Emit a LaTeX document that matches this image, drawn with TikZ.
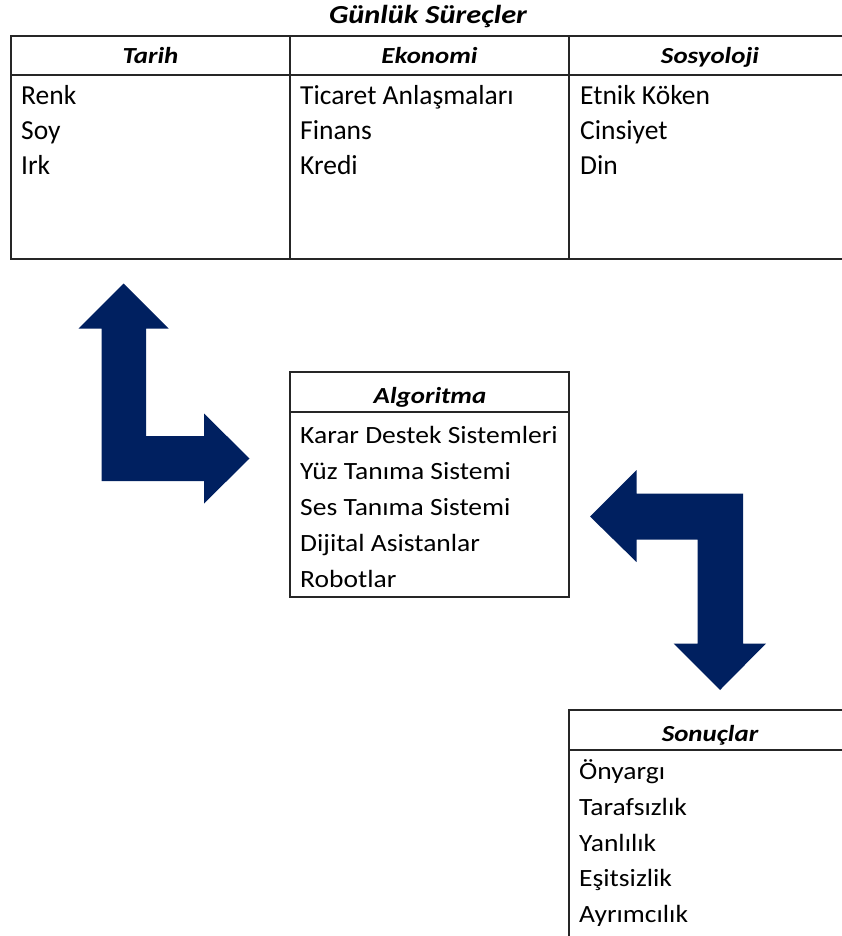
\documentclass[tikz,border=0pt]{standalone}
\usepackage{fontspec}
\setmainfont{Carlito}
\newfontfamily\tablefont{Carlito}
\newfontfamily\boxfont[FakeStretch=1.11]{Carlito}
\newfontfamily\headfont[FakeStretch=1.17]{Carlito}
\definecolor{navy}{HTML}{002060}
\definecolor{rule}{HTML}{262626}
\begin{document}
\begin{tikzpicture}[x=1pt,y=-1pt,
  frame/.style={draw=rule,line width=1.3pt},
  titletext/.style={anchor=base,inner sep=0pt,font=\headfont\bfseries\itshape\fontsize{26}{30}\selectfont},
  headtext/.style={anchor=base,inner sep=0pt,font=\headfont\bfseries\itshape\fontsize{23}{27}\selectfont},
  celltext/.style={anchor=base west,inner sep=0pt,font=\tablefont\fontsize{27.5}{33}\selectfont},
  itemtext/.style={anchor=base west,inner sep=0pt,font=\boxfont\fontsize{24.8}{30}\selectfont},
  blockarrow/.style={fill=navy,draw=none}]
  \useasboundingbox (0,0) rectangle (841,936);
  \fill[white] (0,0) rectangle (841,936);

  % daily processes table
  \node[titletext] (title) at (428,24) {Günlük Süreçler};
  \draw[frame] (11,36) rectangle (852,259);
  \draw[frame] (11,75) -- (852,75);
  \draw[frame] (290,36) -- (290,259);
  \draw[frame] (569,36) -- (569,259);
  \node[headtext] (hTarih) at (150.5,64) {Tarih};
  \node[headtext] (hEkonomi) at (429.5,64) {Ekonomi};
  \node[headtext] (hSosyoloji) at (710,64) {Sosyoloji};
  \node[celltext] (renk) at (21,105) {Renk};
  \node[celltext] (soy) at (21,140) {Soy};
  \node[celltext] (irk) at (21,175) {Irk};
  \node[celltext] (ticaret) at (300,105) {Ticaret Anlaşmaları};
  \node[celltext] (finans) at (300,140) {Finans};
  \node[celltext] (kredi) at (300,175) {Kredi};
  \node[celltext] (etnik) at (580,105) {Etnik Köken};
  \node[celltext] (cinsiyet) at (580,140) {Cinsiyet};
  \node[celltext] (din) at (580,175) {Din};

  % algorithm box
  \draw[frame] (290,372) rectangle (569,597);
  \draw[frame] (290,412) -- (569,412);
  \node[headtext] (hAlgoritma) at (430,403) {Algoritma};
  \node[itemtext] (karar) at (300,443) {Karar Destek Sistemleri};
  \node[itemtext] (yuz) at (300,479) {Yüz Tanıma Sistemi};
  \node[itemtext] (ses) at (300,515) {Ses Tanıma Sistemi};
  \node[itemtext] (dijital) at (300,551) {Dijital Asistanlar};
  \node[itemtext] (robot) at (300,587) {Robotlar};

  % results box
  \draw[frame] (569,940) -- (569,710) -- (852,710);
  \draw[frame] (569,750) -- (852,750);
  \node[headtext] (hSonuclar) at (710,741) {Sonuçlar};
  \node[itemtext] (onyargi) at (579,779) {Önyargı};
  \node[itemtext] (taraf) at (579,815) {Tarafsızlık};
  \node[itemtext] (yanlilik) at (579,851) {Yanlılık};
  \node[itemtext] (esitsiz) at (579,886) {Eşitsizlik};
  \node[itemtext] (ayrim) at (579,922) {Ayrımcılık};

  % bent arrow: up to the table, right to the algorithm box
  \fill[blockarrow] (123.5,283.5) -- (168.5,328.5) -- (146,328.5) -- (146,436)
    -- (204,436) -- (204,413.5) -- (249.5,458.5) -- (204,503.5) -- (204,481)
    -- (101.5,481) -- (101.5,328.5) -- (78.5,328.5) -- cycle;

  % bent arrow: left to the algorithm box, down to the results
  \fill[blockarrow] (590,516.5) -- (636.5,470) -- (636.5,493.5) -- (743,493.5)
    -- (743,643.5) -- (766,643.5) -- (720,690) -- (673.5,643.5) -- (697.5,643.5)
    -- (697.5,539.5) -- (636.5,539.5) -- (636.5,562) -- cycle;
\end{tikzpicture}
\end{document}
